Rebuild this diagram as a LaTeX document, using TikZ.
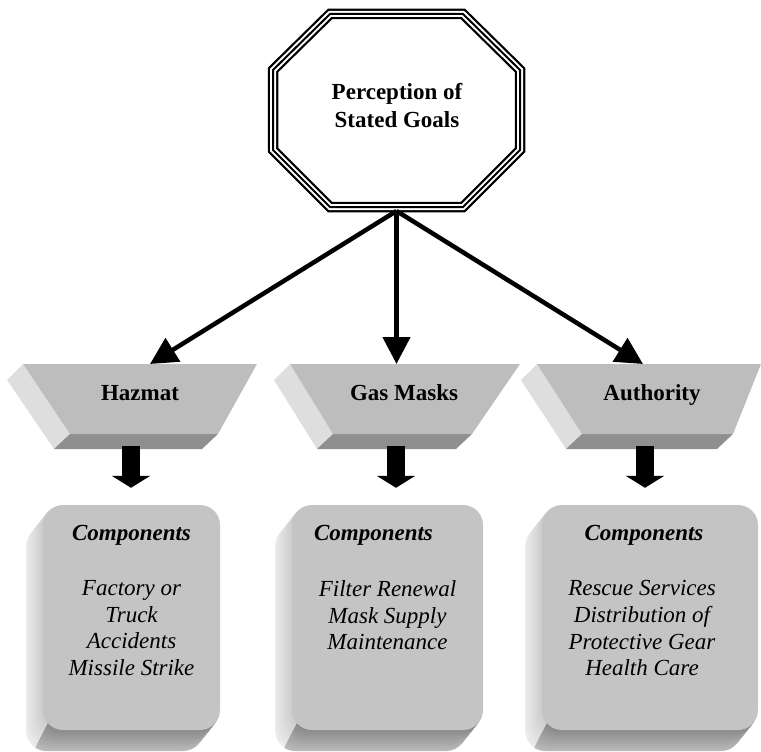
\documentclass[tikz,border=0pt]{standalone}
\usepackage{fontspec}
\setmainfont{Liberation Serif}
\usepackage{tikz}
\usetikzlibrary{arrows.meta,positioning}

\definecolor{TrayTop}{gray}{0.74}
\definecolor{TraySide}{gray}{0.87}
\definecolor{TrayBottom}{gray}{0.56}
\definecolor{CardFace}{gray}{0.77}

\begin{document}
\begin{tikzpicture}[x=1pt, y=-1pt,
    goaltext/.style={align=center, inner sep=0pt, font=\fontsize{23}{28}\selectfont\bfseries},
    traylabel/.style={anchor=base, inner sep=0pt, font=\fontsize{23}{27}\selectfont\bfseries},
    cardface/.style={rectangle, rounded corners=20pt, fill=CardFace, inner sep=0pt},
    cardtitle/.style={anchor=base, inner sep=0pt, font=\fontsize{23}{27}\selectfont\bfseries\itshape},
    cardbody/.style={anchor=north, align=center, inner sep=0pt, font=\fontsize{23}{26.7}\selectfont\itshape},
    link/.style={line width=4.5pt, arrows={-Triangle[length=27pt, width=27pt]}},
    drop/.style={line width=18pt, arrows={-Triangle[length=12pt, width=38pt]}}]

    \useasboundingbox (0,0) rectangle (761,752);

    % octagon with three strokes
    \foreach \w/\c in {10.5/black, 6/white, 2/black}
        \draw [line width=\w pt, \c] (330,14) -- (463,14) -- (520,70) -- (520,150) -- (463,207) -- (330,207) -- (273,150) -- (273,70) -- cycle;
    \node [goaltext] (goal) at (397,106) {Perception of\\Stated Goals};
    \coordinate (goalfoot) at (396.5,211);

    % trays
    \foreach \nm/\lab/\xa/\xb/\xc/\xd/\tx/\hx/\ax in {haz/Hazmat/23/257/70/218/140/150/131, gas/Gas Masks/290/520/333/472/404/396.5/396, auth/Authority/537/761/582/733/652/643/645} {
        \fill [TraySide] (\xa,364) -- (\xc,434) -- (\xc-16,449) -- (\xa-16,380) -- cycle;
        \fill [TrayBottom] (\xc,434) -- (\xd,434) -- (\xd-16,449) -- (\xc-16,449) -- cycle;
        \fill [TrayTop] (\xa,364) -- (\xb,364) -- (\xd,434) -- (\xc,434) -- cycle;
        \node [traylabel] (\nm) at (\tx,400) {\lab};
        \coordinate (\nm-top) at (\hx,364);
        \coordinate (\nm-foot) at (\ax,446);
    }

    % cards
    \foreach \nm/\xl/\xr in {hazcard/43/220, gascard/292/483, authcard/542/758} {
        \foreach \i in {21,...,1} {
            \pgfmathsetmacro\pct{20-0.6*\i}
            \fill [black!\pct, rounded corners=20pt] (\xl-0.8*\i,505+\i) rectangle (\xr-0.8*\i,730+\i);
        }
        \begin{scope}
            \clip (\xl+6,722) -- (\xr+2,722) -- (\xr+2,760) -- (\xl-14,760) -- cycle;
            \foreach \i in {21,...,1} {
                \pgfmathsetmacro\pct{46-0.9*\i}
                \fill [black!\pct, rounded corners=20pt] (\xl-0.8*\i,505+\i) rectangle (\xr-0.8*\i,730+\i);
            }
        \end{scope}
        \node [cardface, minimum width=\xr-\xl, minimum height=225] (\nm) at ({(\xl+\xr)/2},617.5) {};
    }

    \node [cardtitle] (haztitle) at ([yshift=-36pt]hazcard.north) {Components};
    \node [cardbody] (hazlist) at ([yshift=-75.5pt]hazcard.north) {Factory or\\Truck\\Accidents\\Missile Strike};
    \node [cardtitle] (gastitle) at ([xshift=-14pt, yshift=-36pt]gascard.north) {Components};
    \node [cardbody] (gaslist) at ([yshift=-75.5pt]gascard.north) {Filter Renewal\\Mask Supply\\Maintenance};
    \node [cardtitle] (authtitle) at ([xshift=-6pt, yshift=-36pt]authcard.north) {Components};
    \node [cardbody] (authlist) at ([xshift=-8pt, yshift=-75.5pt]authcard.north) {Rescue Services\\Distribution of\\Protective Gear\\Health Care};

    \draw [link] (goalfoot) -- (haz-top);
    \draw [link] (goalfoot) -- (gas-top);
    \draw [link] (goalfoot) -- (auth-top);

    \draw [drop, shorten >=17pt] (haz-foot) -- (haz-foot |- hazcard.north);
    \draw [drop, shorten >=17pt] (gas-foot) -- (gas-foot |- gascard.north);
    \draw [drop, shorten >=17pt] (auth-foot) -- (auth-foot |- authcard.north);
\end{tikzpicture}
\end{document}
